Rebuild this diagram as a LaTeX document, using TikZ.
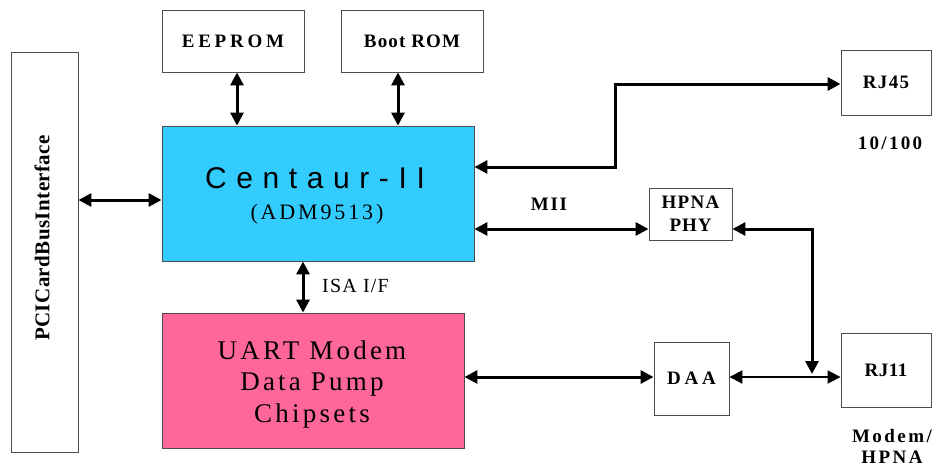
\documentclass[tikz,border=0pt]{standalone}
\usepackage{fontspec}
\setmainfont{Liberation Serif}
\newfontfamily\censans{Liberation Sans}
\usetikzlibrary{arrows.meta}
\definecolor{cenblue}{HTML}{33CCFF}
\definecolor{uartpink}{HTML}{FF6699}
\newcommand\lsp[2]{{\addfontfeatures{LetterSpace=#1}#2}}
\begin{document}
\begin{tikzpicture}[x=1pt,y=-1pt,
  box/.style={draw=black!70, line width=0.9pt, inner sep=0pt, anchor=center},
  boldtxt/.style={font=\bfseries\fontsize{19}{23}\selectfont},
  conn/.style={line width=3pt, {Triangle[length=13pt,width=13pt]}-{Triangle[length=13pt,width=13pt]}},
  ]
\useasboundingbox (0,0) rectangle (938,467);
% boxes
\node[box, minimum width=67, minimum height=400] (pci) at (44.5,252) {};
\node[inner sep=0pt, rotate=90, font=\bfseries\fontsize{21}{23}\selectfont] (pcitxt) at (42,238) {\lsp{2}{PCICardBusInterface}};
\node[box, boldtxt, minimum width=142, minimum height=62] (ee) at (233,41) {\lsp{20}{EEPROM}};
\node[box, boldtxt, minimum width=142, minimum height=62] (boot) at (412,41) {\lsp{6}{Boot ROM}};
\node[box, fill=cenblue, minimum width=312, minimum height=135] (cen) at (318,193.5) {};
\node[inner sep=0pt, font=\censans\fontsize{30}{34}\selectfont] (centxt) at (315,178) {\lsp{32}{Centaur-II}};
\node[inner sep=0pt, font=\fontsize{22}{24}\selectfont] (admtxt) at (317,214) {\lsp{13}{(ADM9513)}};
\node[box, fill=uartpink, minimum width=302, minimum height=135] (uart) at (313,380.5) {};
\node[inner sep=0pt, align=center, font=\fontsize{27}{31.5}\selectfont] (uarttxt) at (312,384) {\lsp{12}{UART Modem}\\\lsp{12}{Data Pump}\\\lsp{12}{Chipsets}};
\node[box, boldtxt, minimum width=90, minimum height=65] (rj45) at (886,82.5) {\lsp{7}{RJ45}};
\node[box, boldtxt, align=center, minimum width=83, minimum height=52] (phy) at (690.5,214) {\lsp{7}{HPNA}\\\lsp{5}{PHY}};
\node[box, boldtxt, minimum width=75, minimum height=73] (daa) at (691.5,378.5) {\lsp{20}{DAA}};
\node[box, boldtxt, minimum width=90, minimum height=74] (rj11) at (886,370) {\lsp{3}{RJ11}};
% labels
\node[inner sep=0pt, boldtxt] (tenh) at (890,143) {\lsp{12}{10/100}};
\node[inner sep=0pt, boldtxt] (modem) at (892,436) {\lsp{13}{Modem/}};
\node[inner sep=0pt, boldtxt] (hpna) at (892,457) {\lsp{13}{HPNA}};
\node[inner sep=0pt, boldtxt] (mii) at (549,204) {\lsp{9}{MII}};
\node[inner sep=0pt, anchor=west, font=\fontsize{20}{22}\selectfont] (isa) at (322,286) {\lsp{6}{ISA I/F}};
% connectors
\coordinate (b1) at (615,167);
\coordinate (b2) at (615,84);
\coordinate (b3) at (812,229);
\coordinate (b4) at (812,374);
\draw[conn] (pci.east |- 0,200) -- (cen.west |- 0,200);
\draw[conn] (ee.south -| 237,0) -- (cen.north -| 237,0);
\draw[conn] (boot.south -| 398,0) -- (cen.north -| 398,0);
\draw[conn] (cen.south -| 303,0) -- (uart.north -| 303,0);
\draw[conn] (cen.east |- 0,167) -- (b1) -- (b2) -- (rj45.west |- 0,84);
\draw[conn] (cen.east |- 0,229) -- (phy.west |- 0,229);
\draw[conn] (phy.east |- 0,229) -- (b3) -- (b4);
\draw[conn] (uart.east |- 0,377) -- (daa.west |- 0,377);
\draw[conn, line width=2pt] (daa.east |- 0,377) -- (rj11.west |- 0,377);
\end{tikzpicture}
\end{document}
